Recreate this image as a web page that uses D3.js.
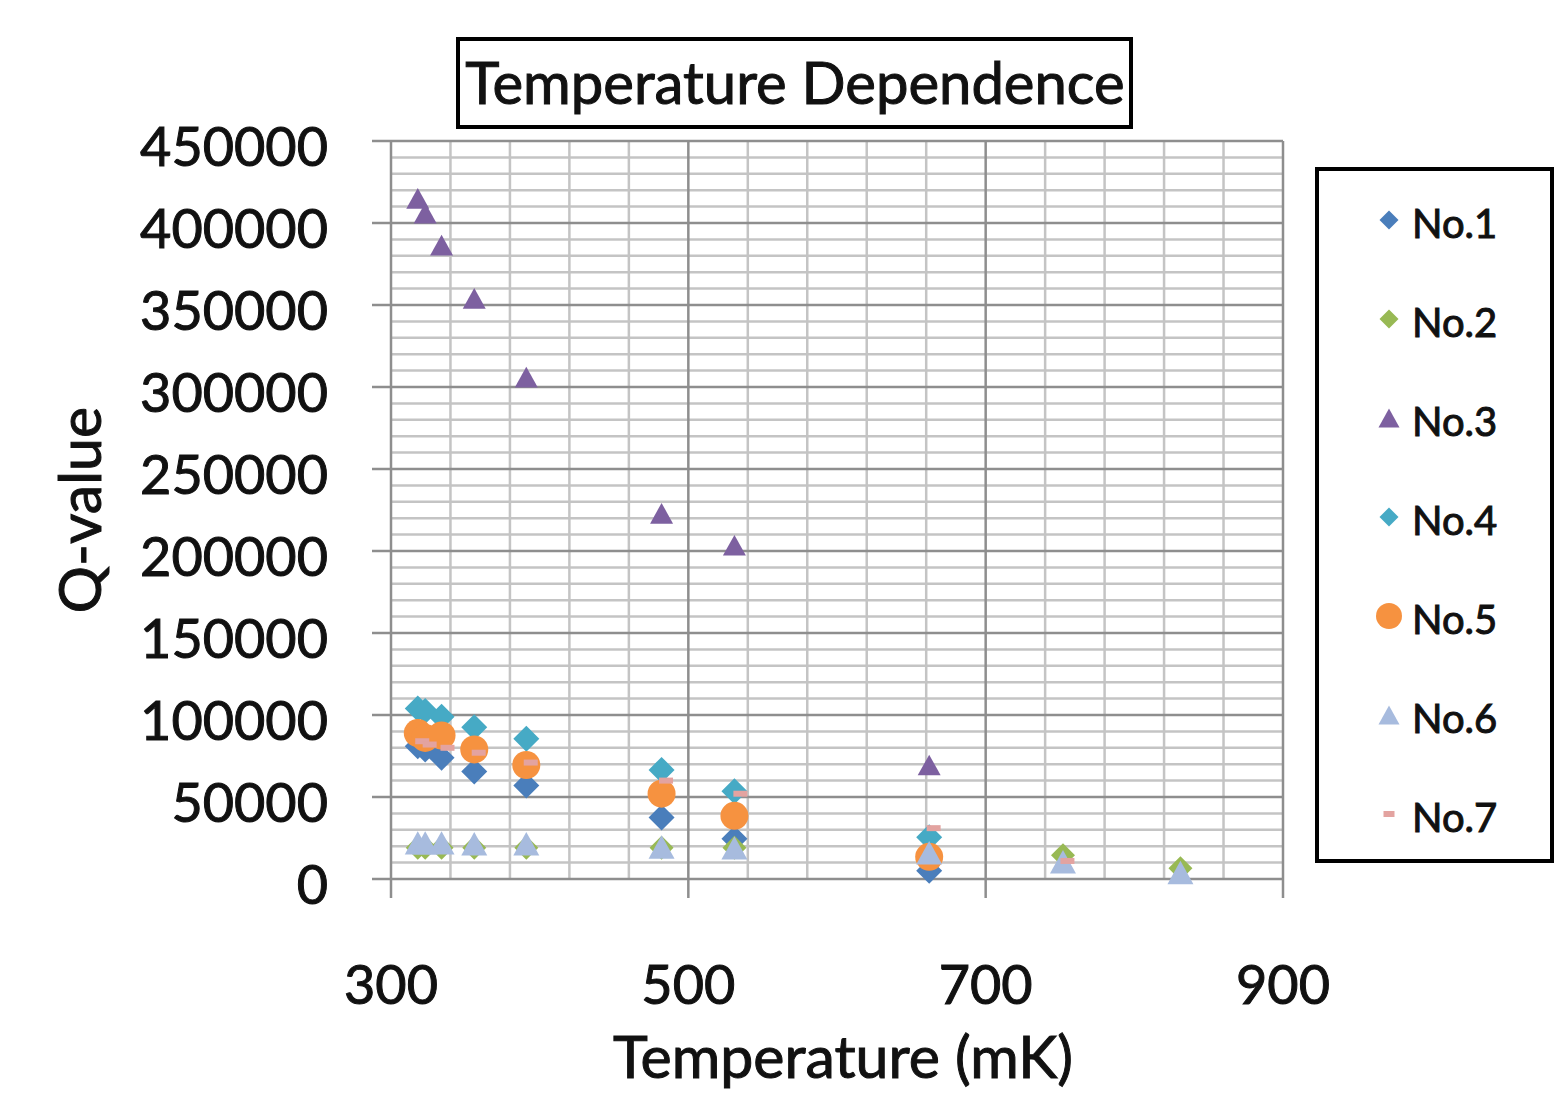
<!DOCTYPE html>
<html>
<head>
<meta charset="utf-8">
<script src="https://cdn.jsdelivr.net/npm/d3@7"></script>
<style>
body { margin: 0; background: #fff; }
text { font-family: Lato, "Open Sans", sans-serif; fill: #111; stroke: #111; stroke-width: 1; }
</style>
</head>
<body>
<div id="chart"></div>
<script>
// temperatures (mK) and Q-values
const tempA = [318, 323, 334, 356, 391, 482, 531, 662]
const tempB = [318, 323, 334, 356, 391, 482, 531, 662, 752, 831]

const no1 = [81000, 79000, 74000, 65500, 57000, 37500, 24500, 5000]
const no2 = [19000, 19000, 19000, 19000, 19000, 19000, 19000, 15000, 14500, 6500]
const no3 = [415000, 406000, 386500, 354000, 306000, 223000, 203500, 69500]
const no4 = [104000, 102500, 99000, 92500, 85500, 66500, 53500, 25500]
const no5 = [89000, 86000, 87500, 79000, 69500, 52000, 38500, 13500]
const no6 = [22000, 22000, 22000, 21500, 21500, 19500, 19000, 16000, 10500, 4000]
const no7 = [84000, 82000, 80000, 77000, 71000, 60000, 52000, 31000, 11000]
const tempNo7 = [321, 326, 338, 359, 394, 485, 535, 665, 755]

const seriesNames = ['No.1', 'No.2', 'No.3', 'No.4', 'No.5', 'No.6', 'No.7']
const seriesColors = ['#4a7ebb', '#98b954', '#7d60a0', '#46aac5', '#f69240', '#a7bbde', '#e3a3a0']
const seriesShapes = ['diamond', 'diamond', 'triangle', 'diamond', 'circle', 'triangle', 'dash']

const xTicks = [300, 500, 700, 900]
const yTicks = [0, 50000, 100000, 150000, 200000, 250000, 300000, 350000, 400000, 450000]

const series = [
	{temps: tempA, vals: no1},
	{temps: tempB, vals: no2},
	{temps: tempA, vals: no3},
	{temps: tempA, vals: no4},
	{temps: tempA, vals: no5},
	{temps: tempB, vals: no6},
	{temps: tempNo7, vals: no7}
]

const width = 1558, height = 1097

const svg = d3.select('#chart').append('svg')
.attr('width', width)
.attr('height', height)

const xScale = d3.scaleLinear().domain([300, 900]).range([391, 1283])
const yScale = d3.scaleLinear().domain([0, 450000]).range([879, 141])

const grid = svg.append('g')

// minor grid
d3.range(0, 450001, 10000).filter(v => v % 50000 !== 0).forEach(v => {
	grid.append('line')
	.attr('x1', xScale(300)).attr('x2', xScale(900))
	.attr('y1', yScale(v)).attr('y2', yScale(v))
	.attr('stroke', '#c4c4c4').attr('stroke-width', 2.5)
})
d3.range(300, 901, 40).filter(v => (v - 300) % 200 !== 0).forEach(v => {
	grid.append('line')
	.attr('x1', xScale(v)).attr('x2', xScale(v))
	.attr('y1', yScale(0)).attr('y2', yScale(450000))
	.attr('stroke', '#c4c4c4').attr('stroke-width', 2.5)
})

// major grid + ticks
yTicks.forEach(v => {
	grid.append('line')
	.attr('x1', xScale(300) - 19).attr('x2', xScale(900))
	.attr('y1', yScale(v)).attr('y2', yScale(v))
	.attr('stroke', '#8e8e8e').attr('stroke-width', 2.5)
})
xTicks.forEach(v => {
	grid.append('line')
	.attr('x1', xScale(v)).attr('x2', xScale(v))
	.attr('y1', yScale(450000)).attr('y2', yScale(0) + 19)
	.attr('stroke', '#8e8e8e').attr('stroke-width', 2.5)
})

// tick labels
svg.append('g').selectAll('text')
.data(yTicks)
.join('text')
.attr('x', 328)
.attr('y', d => yScale(d))
.attr('dy', '0.47em')
.attr('text-anchor', 'end')
.style('font-size', '54px')
.text(d => d)

svg.append('g').selectAll('text')
.data(xTicks)
.join('text')
.attr('x', d => xScale(d))
.attr('y', 1004)
.attr('text-anchor', 'middle')
.style('font-size', '54px')
.text(d => d)

svg.append('text')
.attr('transform', 'translate(101,510) rotate(-90)')
.attr('text-anchor', 'middle')
.style('font-size', '59px')
.text('Q-value')

svg.append('text')
.attr('x', 843)
.attr('y', 1078)
.attr('text-anchor', 'middle')
.style('font-size', '59px')
.text('Temperature (mK)')

// title box
svg.append('rect')
.attr('x', 458).attr('y', 39).attr('width', 673).attr('height', 88)
.attr('fill', '#fff').attr('stroke', '#000').attr('stroke-width', 4)

svg.append('text')
.attr('x', 795)
.attr('y', 104)
.attr('text-anchor', 'middle')
.style('font-size', '58px')
.text('Temperature Dependence')

const drawMarker = (g, shape, color, x, y, s) => {
	if (shape === 'diamond') {
		g.append('path')
		.attr('d', `M${x},${y - s / 2}L${x + s / 2},${y}L${x},${y + s / 2}L${x - s / 2},${y}Z`)
		.attr('fill', color)
	} else if (shape === 'triangle') {
		let h = s * 0.9
		g.append('path')
		.attr('d', `M${x},${y - h / 2}L${x + s / 2},${y + h / 2}L${x - s / 2},${y + h / 2}Z`)
		.attr('fill', color)
	} else if (shape === 'circle') {
		g.append('circle')
		.attr('cx', x).attr('cy', y).attr('r', s / 2)
		.attr('fill', color)
	} else {
		g.append('rect')
		.attr('x', x - s / 2).attr('y', y - 3).attr('width', s).attr('height', 6)
		.attr('fill', color)
	}
}

const markerSize = [26, 24, 23, 26, 28, 26, 14]

const marks = svg.append('g')
series.forEach((s, i) => {
	let g = marks.append('g').attr('class', 'series-' + (i + 1))
	s.vals.forEach((v, j) => {
		drawMarker(g, seriesShapes[i], seriesColors[i], xScale(s.temps[j]), yScale(v), markerSize[i])
	})
})

// legend
svg.append('rect')
.attr('x', 1317).attr('y', 169).attr('width', 235).attr('height', 692)
.attr('fill', '#fff').attr('stroke', '#000').attr('stroke-width', 4)

const legendSize = {diamond: 19, triangle: 21, circle: 26, dash: 11}

seriesNames.forEach((name, i) => {
	let y = 223 + i * 99
	let g = svg.append('g')
	drawMarker(g, seriesShapes[i], seriesColors[i], 1389, y - 3, legendSize[seriesShapes[i]])
	g.append('text')
	.attr('x', 1412)
	.attr('y', y)
	.attr('dy', '0.38em')
	.style('font-size', '40px')
	.text(name)
})
</script>
</body>
</html>
